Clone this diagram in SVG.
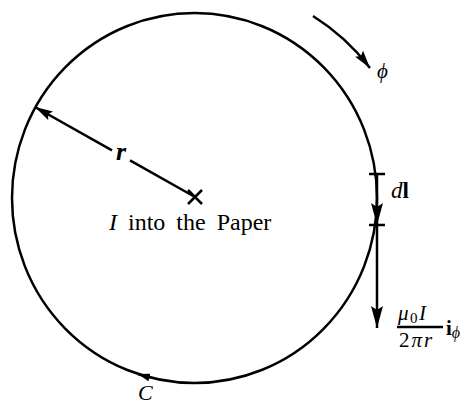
<svg xmlns="http://www.w3.org/2000/svg" width="469" height="406" viewBox="0 0 469 406">
<style>
.ln{fill:none;stroke:#000;stroke-width:2.5}
.t{font-family:"Liberation Serif","DejaVu Serif","Times New Roman",serif;fill:#000}
.it{font-style:italic}
.b{font-weight:bold}
</style>
<defs>
<marker id="big" viewBox="0 0 22 12" refX="22" refY="6" markerWidth="22" markerHeight="12" markerUnits="userSpaceOnUse" orient="auto"><path d="M0,0 L22,6 L0,12 L4,6 z"/></marker>
<marker id="mid" viewBox="0 0 18 10" refX="18" refY="5" markerWidth="18" markerHeight="10" markerUnits="userSpaceOnUse" orient="auto"><path d="M0,0 L18,5 L0,10 L3,5 z"/></marker>
<marker id="sml" viewBox="0 0 12 8" refX="12" refY="4" markerWidth="12" markerHeight="8" markerUnits="userSpaceOnUse" orient="auto"><path d="M0,0 L12,4 L0,8 z"/></marker>
</defs>
<g id="contour-C">
<ellipse class="ln" cx="194.5" cy="198" rx="182.5" ry="185" stroke-width="2.8"/>
<path class="ln" d="M150,377.6 L138,374" marker-end="url(#sml)"/>
<text class="t it" x="138" y="400" font-size="22">C</text>
</g>
<g id="center-current">
<path class="ln" d="M188,190 L202,204 M188,204 L202,190"/>
<text class="t" x="109" y="230" font-size="24" word-spacing="5"><tspan class="it">I</tspan> into the Paper</text>
</g>
<g id="connectors">
<path class="ln" d="M195,197 L130,160.4"/>
<path class="ln" d="M112,150.3 L35,107" marker-end="url(#mid)"/>
<path class="ln" d="M313,16 A217,217 0 0 1 370,68" marker-end="url(#mid)"/>
<path class="ln" d="M377,174 L377,225" stroke-width="3.8" marker-end="url(#big)"/>
<path class="ln" d="M369,174 H385 M369,225 H385"/>
<path class="ln" d="M377,225 L377,328" stroke-width="3.2" marker-end="url(#big)"/>
</g>
<g id="label-r">
<text class="t it b" x="121" y="160" font-size="26" text-anchor="middle">r</text>
</g>
<g id="label-phi">
<text class="t it" x="377" y="78" font-size="21">ϕ</text>
</g>
<g id="label-dl">
<text class="t" x="391" y="198" font-size="23"><tspan class="it">d</tspan><tspan class="b">l</tspan></text>
</g>
<g id="label-B">
<text class="t" x="398" y="320" font-size="21" letter-spacing="1.5"><tspan class="it">μ</tspan><tspan font-size="15" dy="3">0</tspan><tspan class="it" dy="-3">I</tspan></text>
<path class="ln" d="M397,327 H443" stroke-width="1.4"/>
<text class="t" x="399" y="347" font-size="21" letter-spacing="2">2<tspan class="it">πr</tspan></text>
<text class="t" x="446" y="335" font-size="21"><tspan class="b">i</tspan><tspan class="it" font-size="16" dy="3">ϕ</tspan></text>
</g>
</svg>
